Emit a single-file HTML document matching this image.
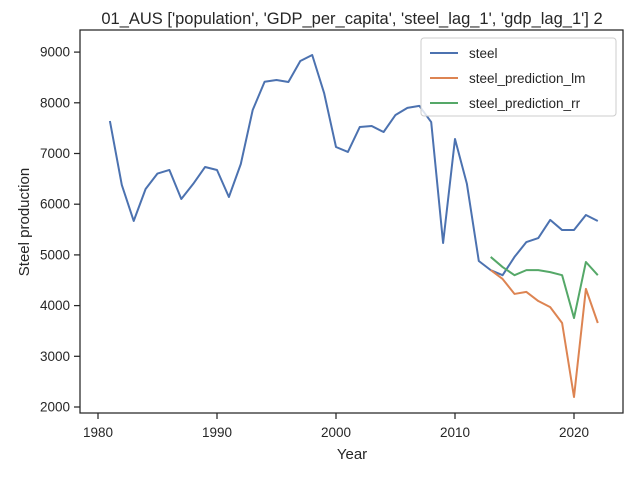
<!DOCTYPE html>
<html><head><meta charset="utf-8"><style>
body{margin:0;background:#fff;}
svg{display:block;font-family:"Liberation Sans",Arial,sans-serif;}
</style></head><body>
<svg id="chart" width="640" height="480">
<rect x="0" y="0" width="640" height="480" fill="#fff"/>
<text x="352" y="24" font-size="16.5" text-anchor="middle" fill="#262626">01_AUS ['population', 'GDP_per_capita', 'steel_lag_1', 'gdp_lag_1'] 2</text>
<g id="ticks"></g>
<g id="series"></g>
<rect x="80" y="30" width="543" height="383" fill="none" stroke="#262626" stroke-width="1.25"/>
<text x="352" y="459" font-size="15" text-anchor="middle" fill="#262626">Year</text>
<text transform="translate(29,222) rotate(-90)" font-size="15" text-anchor="middle" fill="#262626">Steel production</text>
<g>
<rect x="421" y="38" width="195" height="78" rx="3" fill="#fff" fill-opacity="0.8" stroke="#ccc"/>
<line x1="430" y1="53" x2="458" y2="53" stroke="#4c72b0" stroke-width="2"/>
<text x="469" y="58" font-size="13.5" fill="#262626">steel</text>
<line x1="430" y1="78" x2="458" y2="78" stroke="#dd8452" stroke-width="2"/>
<text x="469" y="83" font-size="13.5" fill="#262626">steel_prediction_lm</text>
<line x1="430" y1="103" x2="458" y2="103" stroke="#55a868" stroke-width="2"/>
<text x="469" y="108" font-size="13.5" fill="#262626">steel_prediction_rr</text>
</g>
</svg>
<script>
const steelYears = [1981,1982,1983,1984,1985,1986,1987,1988,1989,1990,1991,1992,1993,1994,1995,1996,1997,1998,1999,2000,2001,2002,2003,2004,2005,2006,2007,2008,2009,2010,2011,2012,2013,2014,2015,2016,2017,2018,2019,2020,2021,2022];
const steelValues = [7641,6379,5669,6300,6605,6675,6103,6400,6734,6675,6142,6793,7858,8416,8450,8410,8824,8943,8193,7128,7030,7523,7542,7424,7760,7900,7940,7620,5235,7286,6400,4880,4700,4600,4960,5254,5333,5690,5490,5490,5787,5669];
const predYears = [2013,2014,2015,2016,2017,2018,2019,2020,2021,2022];
const lmValues = [4700,4525,4230,4270,4090,3970,3657,2197,4330,3657];
const rrValues = [4960,4760,4600,4700,4700,4660,4600,3755,4860,4600];
const xTicks = [1980,1990,2000,2010,2020];
const yTicks = [2000,3000,4000,5000,6000,7000,8000,9000];

const NS = "http://www.w3.org/2000/svg";
function xScale(v){ return 98 + (v - 1980) * 11.9; }
function yScale(v){ return 407 - (v - 2000) * 0.0507; }

const tg = document.getElementById('ticks');
xTicks.forEach(t => {
  const l = document.createElementNS(NS,'line');
  l.setAttribute('x1', xScale(t)); l.setAttribute('x2', xScale(t));
  l.setAttribute('y1', 413); l.setAttribute('y2', 419);
  l.setAttribute('stroke', '#262626'); l.setAttribute('stroke-width', '1.25');
  
  
  tg.appendChild(l);
  const tx = document.createElementNS(NS,'text');
  tx.setAttribute('x', xScale(t)); tx.setAttribute('y', 437);
  tx.setAttribute('font-size', '13.5'); tx.setAttribute('text-anchor', 'middle'); tx.setAttribute('fill', '#262626');
  tx.textContent = t;
  
  
  tg.appendChild(tx);
});
yTicks.forEach(t => {
  const l = document.createElementNS(NS,'line');
  l.setAttribute('x1', 74); l.setAttribute('x2', 80);
  l.setAttribute('y1', yScale(t)); l.setAttribute('y2', yScale(t));
  l.setAttribute('stroke', '#262626'); l.setAttribute('stroke-width', '1.25');
  
  
  tg.appendChild(l);
  const tx = document.createElementNS(NS,'text');
  tx.setAttribute('x', 70); tx.setAttribute('y', yScale(t) + 4.5);
  tx.setAttribute('font-size', '13.5'); tx.setAttribute('text-anchor', 'end'); tx.setAttribute('fill', '#262626');
  tx.textContent = t;
  
  
  tg.appendChild(tx);
});

const sg = document.getElementById('series');
function drawLine(xs, ys, color, name){
  const p = document.createElementNS(NS,'polyline');
  p.setAttribute('points', xs.map((x,i) => xScale(x) + ',' + yScale(ys[i])).join(' '));
  p.setAttribute('fill', 'none'); p.setAttribute('stroke', color);
  p.setAttribute('stroke-width', '2'); p.setAttribute('stroke-linejoin', 'round');
  
  
  sg.appendChild(p);
}
drawLine(steelYears, steelValues, '#4c72b0', 'steel-line');
drawLine(predYears, lmValues, '#dd8452', 'steel-prediction-lm-line');
drawLine(predYears, rrValues, '#55a868', 'steel-prediction-rr-line');
</script>
</body></html>
